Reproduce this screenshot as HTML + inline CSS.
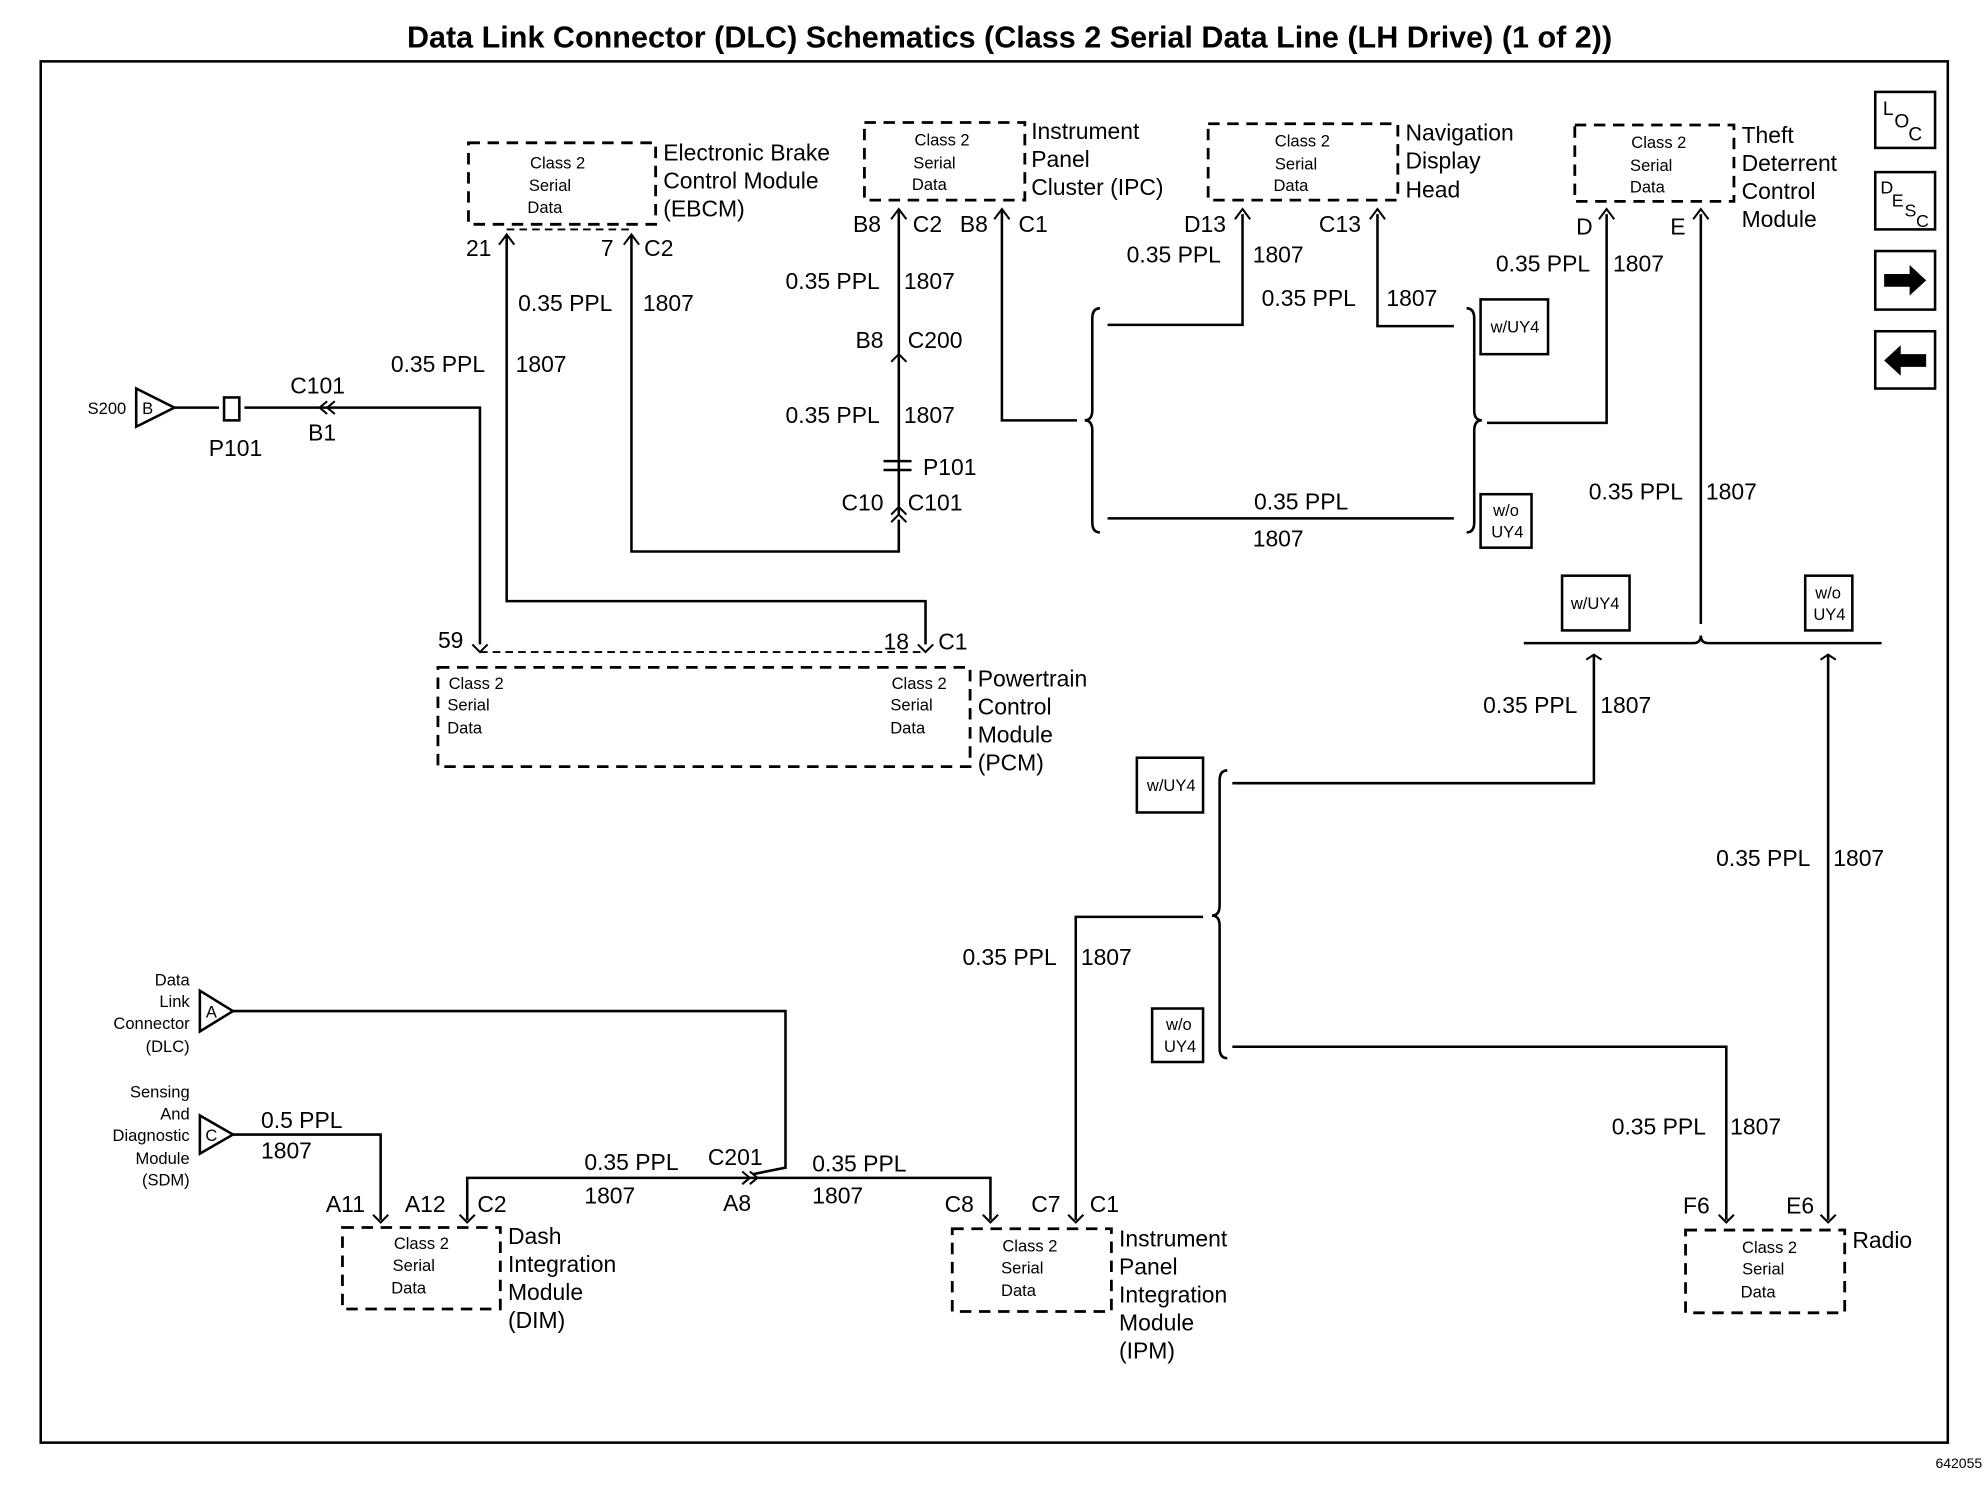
<!DOCTYPE html>
<html><head><meta charset="utf-8"><style>
html,body{margin:0;padding:0;background:#fff}
svg{display:block}
text{font-family:"Liberation Sans",Arial,sans-serif;fill:#000}
.l{font-size:18px}
.s{font-size:13px}
.t{font-size:24px;font-weight:bold}
</style></head><body>
<svg width="1986" height="1504" viewBox="0 0 1560 1181" xmlns="http://www.w3.org/2000/svg">
<rect width="1560" height="1181" fill="#fff"/>
<text x="793" y="37" class="t" text-anchor="middle">Data Link Connector (DLC) Schematics (Class 2 Serial Data Line (LH Drive) (1 of 2))</text>
<rect x="32" y="48" width="1498" height="1085" fill="none" stroke="#000" stroke-width="2"/>
<text x="1557" y="1153" font-size="11" text-anchor="end">642055</text>

<g fill="none" stroke="#000" stroke-width="2.2" stroke-dasharray="9,6">
<rect x="368" y="112" width="147" height="64"/>
<rect x="679" y="96" width="126" height="61"/>
<rect x="949" y="97" width="149" height="60"/>
<rect x="1237" y="98" width="125" height="60"/>
<rect x="344" y="524" width="418" height="78"/>
<rect x="269" y="964" width="124" height="64"/>
<rect x="748" y="965" width="125" height="65"/>
<rect x="1324" y="966" width="125" height="65"/>
</g>
<line x1="398" y1="180" x2="496" y2="180" stroke="#000" stroke-width="1.5" stroke-dasharray="6,4"/>
<line x1="377" y1="512" x2="727" y2="512" stroke="#000" stroke-width="1.5" stroke-dasharray="6,4"/>

<g fill="none" stroke="#000" stroke-width="2">
<polyline points="398,185 398,472 727,472 727,506"/>
<polyline points="496,185 496,433 706,433 706,408"/>
<line x1="706" y1="165" x2="706" y2="405"/>
<polyline points="787,165 787,330 846,330"/>
<polyline points="137,320 172,320"/><polyline points="192,320 377,320 377,506"/>
<path d="M864,242 q-6,0 -6,8 v72 q0,8 -6,8 q6,0 6,8 v72 q0,8 6,8"/>
<path d="M1152,242 q6,0 6,8 v72 q0,8 6,8 q-6,0 -6,8 v72 q0,8 -6,8"/>
<polyline points="870,255 976,255 976,168"/>
<polyline points="1082,168 1082,256 1142,256"/>
<line x1="870" y1="407" x2="1142" y2="407"/>
<polyline points="1168,332 1262,332 1262,168"/>
<line x1="1336" y1="168" x2="1336" y2="490"/>
<path d="M1197,505 H1330 q6,0 6,-6 q0,6 6,6 H1478"/>
<polyline points="1252,515 1252,615 968,615"/>
<line x1="1436" y1="515" x2="1436" y2="958"/>
<path d="M964,605 q-6,0 -6,8 v98 q0,8 -6,8 q6,0 6,8 v96 q0,8 6,8"/>
<polyline points="945,720 845,720 845,958"/>
<polyline points="968,822 1356,822 1356,958"/>
<polyline points="183,794 617,794 617,917 592,922"/>
<polyline points="367,958 367,925 778,925 778,958"/>
<polyline points="183,891 299,891 299,958"/>
<polygon points="107,305 137,320 107,335"/>
<polygon points="157,778 183,794 157,810"/>
<polygon points="157,876 183,891 157,906"/>
<rect x="176" y="312" width="12" height="18"/>
<line x1="694" y1="362" x2="716" y2="362"/><line x1="694" y1="369" x2="716" y2="369"/>
<rect x="1473" y="72" width="47" height="44"/>
<rect x="1473" y="135" width="47" height="45"/>
<rect x="1473" y="197" width="47" height="46"/>
<rect x="1473" y="260" width="47" height="45"/>
<rect x="1163" y="235" width="53" height="43"/>
<rect x="1163" y="388" width="40" height="42"/>
<rect x="1227" y="452" width="53" height="43"/>
<rect x="1418" y="452" width="37" height="43"/>
<rect x="893" y="595" width="52" height="43"/>
<rect x="905" y="792" width="40" height="42"/>
</g>
<g fill="none" stroke="#000" stroke-width="1.6">
<path d="M392,192 l6,-8 l6,8 M490,192 l6,-8 l6,8 M700,172 l6,-8 l6,8 M781,172 l6,-8 l6,8 M970,172 l6,-8 l6,8 M1076,172 l6,-8 l6,8 M1256,172 l6,-8 l6,8 M1330,172 l6,-8 l6,8"/>
<path d="M371,506 l6,6 l6,-6 M721,506 l6,6 l6,-6 M293,954 l6,6 l6,-6 M361,954 l6,6 l6,-6 M772,954 l6,6 l6,-6 M839,954 l6,6 l6,-6 M1350,954 l6,6 l6,-6 M1430,954 l6,6 l6,-6"/>
<path d="M700,284 l6,-6 l6,6 M700,410 l6,-6 l6,6 M700,404 l6,-6 l6,6 M257,315 l-6,5 l6,5 M263,315 l-6,5 l6,5 M583,920 l6,5 l-6,5 M589,920 l6,5 l-6,5 M1246,518 l6,-4 l6,4 M1430,518 l6,-4 l6,4"/>
</g>
<polygon points="1480,215 1500,215 1500,208 1513,220 1500,232 1500,225 1480,225"/>
<polygon points="1513,278 1493,278 1493,271 1480,283 1493,295 1493,288 1513,288"/>
<text x="1479" y="90" font-size="15">L</text><text x="1488" y="100" font-size="15">O</text><text x="1499" y="110" font-size="15">C</text>
<text x="1477" y="152" font-size="14">D</text><text x="1486" y="162" font-size="14">E</text><text x="1496" y="170" font-size="14">S</text><text x="1505" y="178" font-size="14">C</text>

<g class="s" text-anchor="middle">
<text x="438" y="132">Class 2</text><text x="432" y="150">Serial</text><text x="428" y="167">Data</text>
<text x="740" y="114">Class 2</text><text x="734" y="132">Serial</text><text x="730" y="149">Data</text>
<text x="1023" y="115">Class 2</text><text x="1018" y="133">Serial</text><text x="1014" y="150">Data</text>
<text x="1303" y="116">Class 2</text><text x="1297" y="134">Serial</text><text x="1294" y="151">Data</text>
<text x="374" y="541">Class 2</text><text x="368" y="558">Serial</text><text x="365" y="576">Data</text>
<text x="722" y="541">Class 2</text><text x="716" y="558">Serial</text><text x="713" y="576">Data</text>
<text x="331" y="981">Class 2</text><text x="325" y="998">Serial</text><text x="321" y="1016">Data</text>
<text x="809" y="983">Class 2</text><text x="803" y="1000">Serial</text><text x="800" y="1018">Data</text>
<text x="1390" y="984">Class 2</text><text x="1385" y="1001">Serial</text><text x="1381" y="1019">Data</text>
<text x="1190" y="261">w/UY4</text>
<text x="1183" y="405">w/o</text><text x="1184" y="422">UY4</text>
<text x="1253" y="478">w/UY4</text>
<text x="1436" y="470">w/o</text><text x="1437" y="487">UY4</text>
<text x="920" y="621">w/UY4</text>
<text x="926" y="809">w/o</text><text x="927" y="826">UY4</text>
<text x="84" y="325">S200</text><text x="116" y="325">B</text>
<text x="166" y="799">A</text><text x="166" y="896">C</text>
</g>
<g class="s" text-anchor="end">
<text x="149" y="774">Data</text><text x="149" y="791">Link</text><text x="149" y="808">Connector</text><text x="149" y="826">(DLC)</text>
<text x="149" y="862">Sensing</text><text x="149" y="879">And</text><text x="149" y="896">Diagnostic</text><text x="149" y="914">Module</text><text x="149" y="931">(SDM)</text>
</g>
<g class="l">
<text x="521" y="126">Electronic Brake</text><text x="521" y="148">Control Module</text><text x="521" y="170">(EBCM)</text>
<text x="810" y="109">Instrument</text><text x="810" y="131">Panel</text><text x="810" y="153">Cluster (IPC)</text>
<text x="1104" y="110">Navigation</text><text x="1104" y="132">Display</text><text x="1104" y="155">Head</text>
<text x="1368" y="112">Theft</text><text x="1368" y="134">Deterrent</text><text x="1368" y="156">Control</text><text x="1368" y="178">Module</text>
<text x="768" y="539">Powertrain</text><text x="768" y="561">Control</text><text x="768" y="583">Module</text><text x="768" y="605">(PCM)</text>
<text x="399" y="977">Dash</text><text x="399" y="999">Integration</text><text x="399" y="1021">Module</text><text x="399" y="1043">(DIM)</text>
<text x="879" y="979">Instrument</text><text x="879" y="1001">Panel</text><text x="879" y="1023">Integration</text><text x="879" y="1045">Module</text><text x="879" y="1067">(IPM)</text>
<text x="1455" y="980">Radio</text>
<text x="366" y="201">21</text><text x="472" y="201">7</text><text x="506" y="201">C2</text>
<text x="670" y="182">B8</text><text x="717" y="182">C2</text><text x="754" y="182">B8</text><text x="800" y="182">C1</text>
<text x="930" y="182">D13</text><text x="1036" y="182">C13</text>
<text x="1238" y="184">D</text><text x="1312" y="184">E</text>
<text x="407" y="244">0.35 PPL</text><text x="505" y="244">1807</text>
<text x="307" y="292">0.35 PPL</text><text x="405" y="292">1807</text>
<text x="617" y="227">0.35 PPL</text><text x="710" y="227">1807</text>
<text x="672" y="273">B8</text><text x="713" y="273">C200</text>
<text x="617" y="332">0.35 PPL</text><text x="710" y="332">1807</text>
<text x="725" y="373">P101</text>
<text x="661" y="401">C10</text><text x="713" y="401">C101</text>
<text x="228" y="309">C101</text><text x="242" y="346">B1</text><text x="164" y="358">P101</text>
<text x="885" y="206">0.35 PPL</text><text x="984" y="206">1807</text>
<text x="991" y="240">0.35 PPL</text><text x="1089" y="240">1807</text>
<text x="1175" y="213">0.35 PPL</text><text x="1267" y="213">1807</text>
<text x="985" y="400">0.35 PPL</text><text x="984" y="429">1807</text>
<text x="1248" y="392">0.35 PPL</text><text x="1340" y="392">1807</text>
<text x="344" y="509">59</text><text x="694" y="510">18</text><text x="737" y="510">C1</text>
<text x="1165" y="560">0.35 PPL</text><text x="1257" y="560">1807</text>
<text x="1348" y="680">0.35 PPL</text><text x="1440" y="680">1807</text>
<text x="756" y="758">0.35 PPL</text><text x="849" y="758">1807</text>
<text x="1266" y="891">0.35 PPL</text><text x="1359" y="891">1807</text>
<text x="205" y="886">0.5 PPL</text><text x="205" y="910">1807</text>
<text x="459" y="919">0.35 PPL</text><text x="459" y="945">1807</text>
<text x="556" y="915">C201</text><text x="568" y="951">A8</text>
<text x="638" y="920">0.35 PPL</text><text x="638" y="945">1807</text>
<text x="256" y="952">A11</text><text x="318" y="952">A12</text><text x="375" y="952">C2</text>
<text x="742" y="952">C8</text><text x="810" y="952">C7</text><text x="856" y="952">C1</text>
<text x="1322" y="953">F6</text><text x="1403" y="953">E6</text>
</g>
</svg>
</body></html>
